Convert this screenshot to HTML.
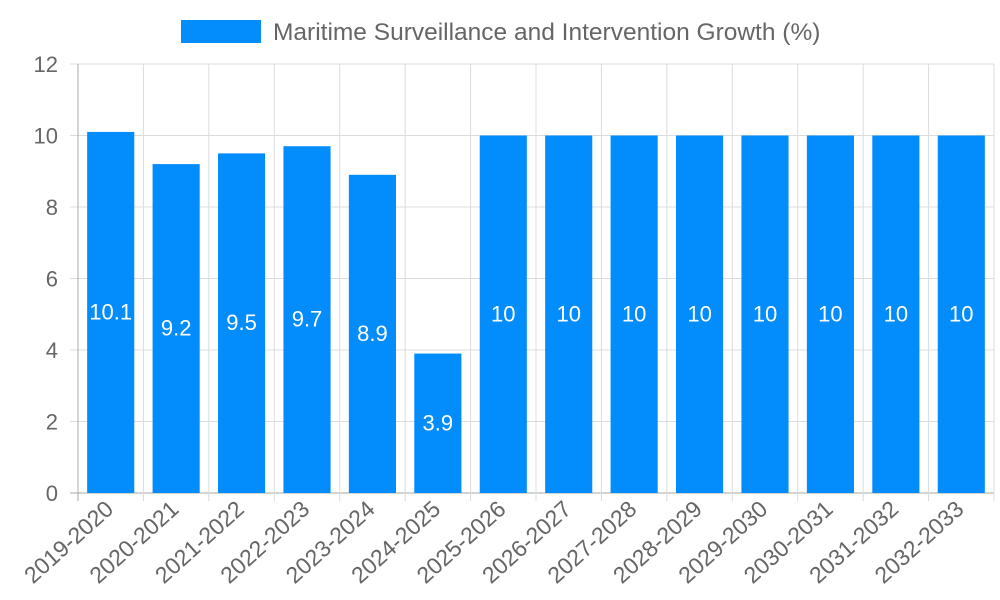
<!DOCTYPE html>
<html><head><meta charset="utf-8">
<style>
html,body{margin:0;padding:0;background:#fff;}
svg{display:block;font-family:"Liberation Sans",Arial,sans-serif;}
</style></head>
<body>
<svg id="chart" width="1000" height="600" viewBox="0 0 1000 600" xmlns="http://www.w3.org/2000/svg">
  <g id="legend">
    <rect x="181" y="20" width="80" height="23" fill="#038cfc"/>
    <text x="273" y="40" font-size="24.5" fill="#666">Maritime Surveillance and Intervention Growth (%)</text>
  </g>
  <g id="grid"></g>
  <g id="bars"></g>
  <g id="labels"></g>
</svg>
<script>
const categories = ["2019-2020","2020-2021","2021-2022","2022-2023","2023-2024","2024-2025","2025-2026","2026-2027","2027-2028","2028-2029","2029-2030","2030-2031","2031-2032","2032-2033"];
const growthValues = [10.1, 9.2, 9.5, 9.7, 8.9, 3.9, 10, 10, 10, 10, 10, 10, 10, 10];
const yTicks = [0, 2, 4, 6, 8, 10, 12];

const NS = "http://www.w3.org/2000/svg";
const plotLeft = 78, plotRight = 994, plotTop = 64, plotBottom = 493, yMax = 12;
const band = (plotRight - plotLeft) / categories.length;
const yScale = v => plotBottom - (v / yMax) * (plotBottom - plotTop);
const xBand = i => plotLeft + i * band;
function mk(tag, attrs, parent) {
  const e = document.createElementNS(NS, tag);
  for (const k in attrs) e.setAttribute(k, attrs[k]);
  parent.appendChild(e);
  return e;
}
const gridG = document.getElementById('grid');
const barsG = document.getElementById('bars');
const labelsG = document.getElementById('labels');

yTicks.forEach(t => {
  const y = yScale(t);
  const l = mk('line', {x1: plotLeft - 8, x2: plotRight, y1: y, y2: y, stroke: t === 0 ? '#aaa' : '#dcdcdc', 'stroke-width': 1}, gridG);
  
  
  const tx = mk('text', {x: plotLeft - 20, y: y + 8, 'text-anchor': 'end', 'font-size': 22, fill: '#666'}, labelsG);
  tx.textContent = t;
  
  
});
for (let i = 0; i <= categories.length; i++) {
  const x = xBand(i);
  const l = mk('line', {x1: x, x2: x, y1: plotTop, y2: plotBottom + 8, stroke: i === 0 ? '#aaa' : '#dcdcdc', 'stroke-width': 1}, gridG);
  
  
}
categories.forEach((c, i) => {
  const bw = band * 0.72;
  const x = xBand(i) + (band - bw) / 2;
  const y = yScale(growthValues[i]);
  const r = mk('rect', {x: x, y: y, width: bw, height: plotBottom - y, fill: '#038cfc'}, barsG);
  
  
  const v = mk('text', {x: x + bw / 2, y: (y + plotBottom) / 2 + 7, 'text-anchor': 'middle', 'font-size': 22, fill: '#fff'}, labelsG);
  v.textContent = growthValues[i];
  
  
  const cx = xBand(i) + band / 2;
  const ax = cx + 4, ay = plotBottom + 18;
  const t = mk('text', {x: ax, y: ay, 'text-anchor': 'end', 'font-size': 23, fill: '#666', transform: `rotate(-42 ${ax} ${ay})`}, labelsG);
  t.textContent = c;
  
  
});
</script>
</body></html>
